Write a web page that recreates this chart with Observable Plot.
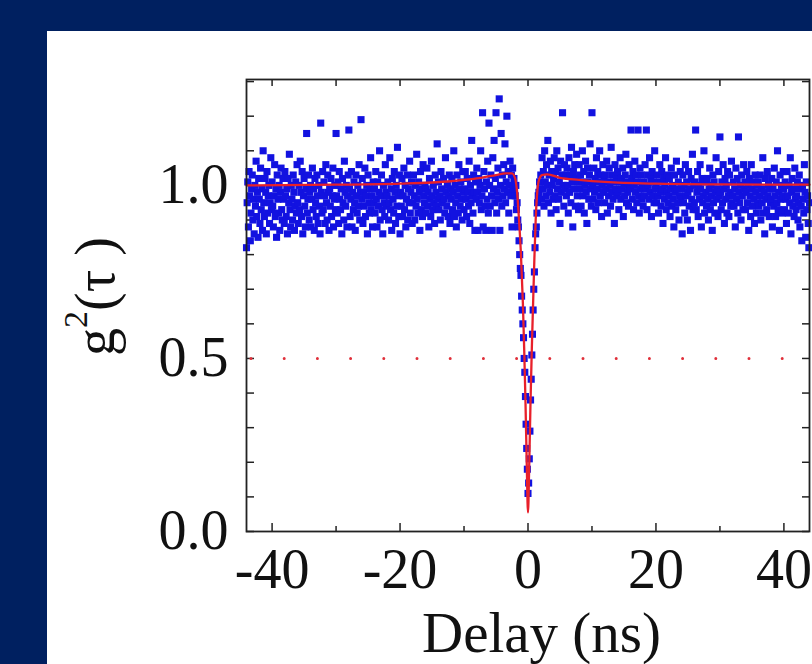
<!DOCTYPE html>
<html><head><meta charset="utf-8">
<script src="https://cdn.jsdelivr.net/npm/d3@7"></script>
<script src="https://cdn.jsdelivr.net/npm/@observablehq/plot@0.6"></script>
<style>
html,body{margin:0;padding:0;background:#002060;width:812px;height:664px;overflow:hidden;}
#panel{position:absolute;left:47px;top:31px;width:765px;height:633px;background:#fff;overflow:hidden;}
</style></head><body><div id="panel"></div>
<script>
// Delay in tenths of ns
const delayTenths = [
-440,-439,-438,-437,-436,-435,-434,-433,-432,-431,-430,-429,-428,-427,-426,-425,-424,-423,-422,-421,
-420,-419,-418,-417,-416,-415,-414,-413,-412,-411,-410,-409,-408,-407,-406,-405,-404,-403,-402,-401,
-400,-399,-398,-397,-396,-395,-394,-393,-392,-391,-390,-389,-388,-387,-386,-385,-384,-383,-382,-381,
-380,-379,-378,-377,-376,-375,-374,-373,-372,-371,-370,-369,-368,-367,-366,-365,-364,-363,-362,-361,
-360,-359,-358,-357,-356,-355,-354,-353,-352,-351,-350,-349,-348,-347,-346,-345,-344,-343,-342,-341,
-340,-339,-338,-337,-336,-335,-334,-333,-332,-331,-330,-329,-328,-327,-326,-325,-324,-323,-322,-321,
-320,-319,-318,-317,-316,-315,-314,-313,-312,-311,-310,-309,-308,-307,-306,-305,-304,-303,-302,-301,
-300,-299,-298,-297,-296,-295,-294,-293,-292,-291,-290,-289,-288,-287,-286,-285,-284,-283,-282,-281,
-280,-279,-278,-277,-276,-275,-274,-273,-272,-271,-270,-269,-268,-267,-266,-265,-264,-263,-262,-261,
-260,-259,-258,-257,-256,-255,-254,-253,-252,-251,-250,-249,-248,-247,-246,-245,-244,-243,-242,-241,
-240,-239,-238,-237,-236,-235,-234,-233,-232,-231,-230,-229,-228,-227,-226,-225,-224,-223,-222,-221,
-220,-219,-218,-217,-216,-215,-214,-213,-212,-211,-210,-209,-208,-207,-206,-205,-204,-203,-202,-201,
-200,-199,-198,-197,-196,-195,-194,-193,-192,-191,-190,-189,-188,-187,-186,-185,-184,-183,-182,-181,
-180,-179,-178,-177,-176,-175,-174,-173,-172,-171,-170,-169,-168,-167,-166,-165,-164,-163,-162,-161,
-160,-159,-158,-157,-156,-155,-154,-153,-152,-151,-150,-149,-148,-147,-146,-145,-144,-143,-142,-141,
-140,-139,-138,-137,-136,-135,-134,-133,-132,-131,-130,-129,-128,-127,-126,-125,-124,-123,-122,-121,
-120,-119,-118,-117,-116,-115,-114,-113,-112,-111,-110,-109,-108,-107,-106,-105,-104,-103,-102,-101,
-100,-99,-98,-97,-96,-95,-94,-93,-92,-91,-90,-89,-88,-87,-86,-85,-84,-83,-82,-81,
-80,-79,-78,-77,-76,-75,-74,-73,-72,-71,-70,-69,-68,-67,-66,-65,-64,-63,-62,-61,
-60,-59,-58,-57,-56,-55,-54,-53,-52,-51,-50,-49,-48,-47,-46,-45,-44,-43,-42,-41,
-40,-39,-38,-37,-36,-35,-34,-33,-32,-31,-30,-29,-28,-27,-26,-25,-24,-23,-22,-21,
-20,-19,-18,-17,-16,-15,-14,-13,-12,-11,-10,-9,-8,-7,-6,-5,-4,-3,-2,-1,
0,1,2,3,4,5,6,7,8,9,10,11,12,13,14,15,16,17,18,19,
20,21,22,23,24,25,26,27,28,29,30,31,32,33,34,35,36,37,38,39,
40,41,42,43,44,45,46,47,48,49,50,51,52,53,54,55,56,57,58,59,
60,61,62,63,64,65,66,67,68,69,70,71,72,73,74,75,76,77,78,79,
80,81,82,83,84,85,86,87,88,89,90,91,92,93,94,95,96,97,98,99,
100,101,102,103,104,105,106,107,108,109,110,111,112,113,114,115,116,117,118,119,
120,121,122,123,124,125,126,127,128,129,130,131,132,133,134,135,136,137,138,139,
140,141,142,143,144,145,146,147,148,149,150,151,152,153,154,155,156,157,158,159,
160,161,162,163,164,165,166,167,168,169,170,171,172,173,174,175,176,177,178,179,
180,181,182,183,184,185,186,187,188,189,190,191,192,193,194,195,196,197,198,199,
200,201,202,203,204,205,206,207,208,209,210,211,212,213,214,215,216,217,218,219,
220,221,222,223,224,225,226,227,228,229,230,231,232,233,234,235,236,237,238,239,
240,241,242,243,244,245,246,247,248,249,250,251,252,253,254,255,256,257,258,259,
260,261,262,263,264,265,266,267,268,269,270,271,272,273,274,275,276,277,278,279,
280,281,282,283,284,285,286,287,288,289,290,291,292,293,294,295,296,297,298,299,
300,301,302,303,304,305,306,307,308,309,310,311,312,313,314,315,316,317,318,319,
320,321,322,323,324,325,326,327,328,329,330,331,332,333,334,335,336,337,338,339,
340,341,342,343,344,345,346,347,348,349,350,351,352,353,354,355,356,357,358,359,
360,361,362,363,364,365,366,367,368,369,370,371,372,373,374,375,376,377,378,379,
380,381,382,383,384,385,386,387,388,389,390,391,392,393,394,395,396,397,398,399,
400,401,402,403,404,405,406,407,408,409,410,411,412,413,414,415,416,417,418,419,
420,421,422,423,424,425,426,427,428,429,430,431,432,433,434,435,436,437,438,439,
440];
// g2 in hundredths
const g2Hundredths = [
82,95,101,88,104,97,84,92,99,103,90,96,86,100,94,107,91,98,85,102,
96,89,105,93,99,87,110,95,91,102,98,86,104,92,97,100,89,95,108,93,
101,94,88,97,106,91,99,85,103,96,92,100,87,98,105,93,90,102,96,89,
104,97,91,99,86,102,95,109,93,88,100,96,90,103,98,87,94,101,92,106,
95,89,100,93,107,98,91,104,86,97,102,94,88,99,115,92,96,103,90,98,
100,88,96,105,93,99,87,102,95,91,103,97,89,100,94,86,118,98,92,104,
93,101,97,89,106,95,90,103,98,87,99,94,102,91,97,105,88,96,100,93,
115,97,92,101,89,104,96,93,99,86,102,95,90,107,98,94,100,88,97,103,
116,99,91,96,104,88,98,93,101,95,87,103,97,92,100,94,106,90,98,119,
96,102,89,98,94,105,91,97,100,86,103,95,92,99,108,93,97,88,101,95,
99,92,104,96,88,101,94,98,110,90,97,103,93,86,100,95,91,106,98,94,
97,101,90,95,108,93,99,87,102,96,92,104,98,89,100,94,111,97,91,103,
86,98,94,102,91,97,105,93,100,88,96,103,90,99,95,107,92,98,101,89,
95,103,97,90,100,94,109,96,92,101,98,87,104,93,99,91,106,97,95,100,
92,99,105,94,98,88,102,96,91,107,97,93,100,95,89,103,98,94,112,96,
101,93,97,90,104,99,95,86,102,96,92,108,98,94,100,91,97,103,89,99,
96,102,93,98,110,91,100,95,88,103,97,92,106,99,94,101,96,90,104,98,
93,99,104,96,91,102,98,94,107,89,100,95,113,97,92,103,98,87,101,96,
105,98,87,102,95,100,110,93,97,121,88,104,99,94,87,101,96,107,92,118,
100,94,103,97,87,108,99,113,95,102,121,92,98,105,96,125,87,100,115,94,
103,97,106,99,112,95,101,120,98,104,92,100,107,97,103,88,105,99,102,98,
97,100,93,95,90,88,84,80,76,74,68,64,60,56,50,46,39,31,24,18,
11,14,21,29,38,44,51,57,64,70,75,82,86,88,92,95,97,98,101,99,
103,96,108,99,104,94,110,101,97,106,100,113,95,103,98,107,92,104,100,96,
102,108,97,104,93,110,99,105,96,101,89,107,98,103,121,100,94,106,99,103,
97,105,100,92,108,98,103,95,111,101,88,104,99,106,94,102,109,97,101,93,
106,99,103,94,101,110,97,104,92,100,107,98,89,105,101,96,103,112,99,94,
121,100,96,105,98,102,93,108,99,104,95,101,110,97,103,91,100,106,98,102,
95,103,99,107,92,101,97,105,100,94,111,98,103,96,101,89,106,99,102,97,
104,98,93,101,108,96,102,99,105,91,100,97,103,109,95,101,98,94,106,100,
99,116,102,96,104,93,100,107,98,103,95,101,116,97,92,105,99,103,96,100,
94,101,97,106,99,116,93,103,100,96,108,98,102,91,104,97,101,95,110,99,
100,95,103,97,92,101,106,98,94,104,99,89,102,96,100,108,93,98,103,95,
97,102,91,99,105,94,100,96,88,103,98,93,107,99,95,101,90,97,104,96,
99,86,103,95,100,92,106,97,101,90,98,104,94,99,87,102,96,109,93,100,
95,101,116,93,98,104,91,100,96,106,99,88,102,95,97,110,92,101,98,94,
102,96,90,99,105,93,100,97,87,103,95,101,92,98,108,96,99,91,104,97,
114,98,93,101,95,106,99,89,102,96,100,92,104,97,91,103,98,94,107,95,
97,101,94,99,88,105,96,102,92,114,98,95,100,90,103,97,93,106,99,101,
93,98,104,95,100,87,102,97,91,106,99,94,101,96,89,103,98,92,100,95,
101,94,97,103,90,99,95,108,92,98,86,102,96,93,104,97,100,91,99,95,
96,102,88,99,94,105,97,91,101,95,110,93,98,87,103,96,100,92,97,104,
99,93,101,96,89,104,97,92,100,95,108,86,98,102,94,99,91,105,96,93,
97,101,90,95,103,88,99,94,84,100,96,92,106,98,85,101,93,97,89,82,
95];
// fit curve
const fitDelay = [-44,-30,-20,-12,-8,-5,-3.5,-2.5,-2,-1.7,-1.4,-1.1,-0.8,-0.6,-0.4,-0.2,0,0.2,0.4,0.6,0.8,1.0,1.2,1.4,1.7,2.2,3,5,8,12,20,30,44];
const fitG2 = [1.0,1.002,1.005,1.012,1.02,1.03,1.035,1.035,1.02,0.98,0.9,0.8,0.66,0.53,0.38,0.2,0.055,0.2,0.38,0.53,0.66,0.79,0.9,0.97,1.015,1.03,1.032,1.022,1.016,1.01,1.005,1.003,1.002];

const xTickLabels = [-40,-20,0,20,40];
const xTicksMinor = [-30,-10,10,30];
const xTicksTop = [-40,-30,-20,-10,0,10,20,30,40];
const yTickLabels = [0,0.5,1];
const yTicks = [0,0.1,0.2,0.3,0.4,0.5,0.6,0.7,0.8,0.9,1.0,1.1,1.2,1.3];
const refLevel = [0.5];
const xLabel = "Delay (ns)";
const yLabelBase = "g", yLabelSup = "2", yLabelRest = "(τ )";
const yLabel = yLabelBase + yLabelSup + yLabelRest;

const n = Math.min(delayTenths.length, g2Hundredths.length);
const points = delayTenths.slice(0, n).map((d, i) => ({delay: d / 10, g2: g2Hundredths[i] / 100}));
const fit = fitDelay.map((d, i) => ({delay: d, g2: fitG2[i]}));

const W = 765, H = 633, ml = 199, mr = 3, mt = 48, mb = 133;
const pw = W - ml - mr, ph = H - mt - mb;
const ink = "#222";
const font = "'Liberation Serif','Times New Roman',serif";

const chart = Plot.plot({
  width: W, height: H, marginLeft: ml, marginRight: mr, marginTop: mt, marginBottom: mb,
  style: {background: "transparent", fontFamily: font, color: "#111"},
  x: {domain: [-44, 44]},
  y: {domain: [0, 1.306]},
  marks: [
    Plot.tickX(xTickLabels, {x: d => d, insetTop: ph - 8, stroke: ink, strokeWidth: 1.5}),
    Plot.tickX(xTicksMinor, {x: d => d, insetTop: ph - 5, stroke: ink, strokeWidth: 1.5}),
    Plot.tickX(xTicksTop, {x: d => d, insetBottom: ph - 7, stroke: ink, strokeWidth: 1.5}),
    Plot.tickY(yTicks, {y: d => d, insetRight: pw - 8, stroke: ink, strokeWidth: 1.5}),
    Plot.tickY(yTicks, {y: d => d, insetLeft: pw - 7, stroke: ink, strokeWidth: 1.5}),
    Plot.ruleY(refLevel, {stroke: "#e0303a", strokeWidth: 3, strokeDasharray: "0,33.2", strokeDashoffset: 28.2, strokeLinecap: "round"}),
    Plot.dot(points, {x: "delay", y: "g2", symbol: "square", r: 4, fill: "#1212e0", stroke: null}),
    Plot.line(fit, {x: "delay", y: "g2", stroke: "#e8202a", strokeWidth: 2.3, curve: "monotone-x"}),
    Plot.frame({stroke: ink, strokeWidth: 1.8}),
    Plot.axisX({ticks: xTickLabels, tickSize: 0, tickPadding: 17, tickFormat: d => String(d), fontSize: 56, label: null, fill: "#111"}),
    Plot.axisY({ticks: yTickLabels, tickSize: 0, tickPadding: 18, tickFormat: d3.format(".1f"), fontSize: 56, label: null, fill: "#111"}),
    Plot.text([xLabel], {text: d => d, frameAnchor: "bottom", textAnchor: "middle", dx: 13.5, dy: 120, fontSize: 57, fill: "#111"}),
    Plot.text([yLabel], {text: d => d, frameAnchor: "left", textAnchor: "middle", lineAnchor: "middle", dx: -150, dy: -9, rotate: -90, fontSize: 56, fill: "#111"})
  ]
});
// render the exponent as a raised, smaller tspan
d3.select(chart).selectAll("text").filter(function () { return this.textContent === yLabel; }).each(function () {
  const t = d3.select(this);
  t.text(null);
  t.append("tspan").text(yLabelBase);
  t.append("tspan").attr("dy", -27).attr("font-size", 34).text(yLabelSup);
  t.append("tspan").attr("dy", 27).text(yLabelRest);
});
document.getElementById("panel").appendChild(chart);
</script>
</body></html>
